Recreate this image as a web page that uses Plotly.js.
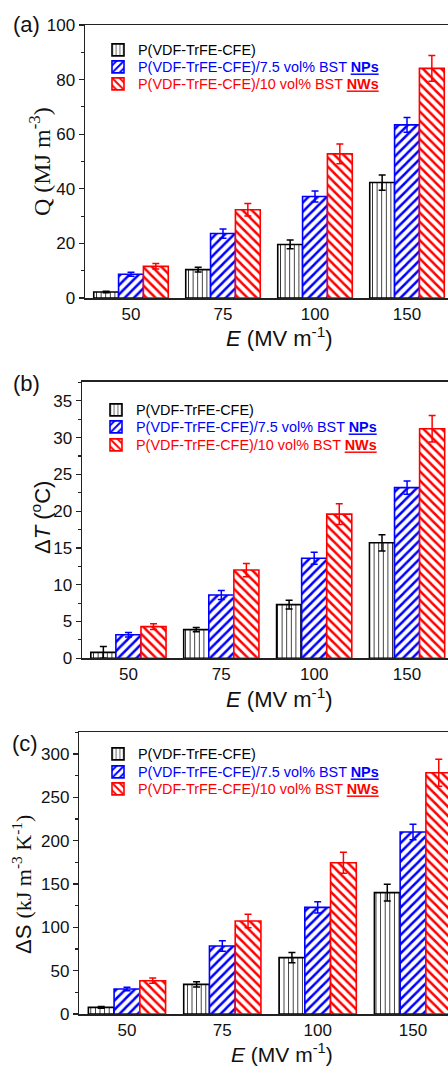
<!DOCTYPE html>
<html>
<head>
<meta charset="utf-8">
<script src="https://cdn.plot.ly/plotly-3.0.1.min.js"></script>
<style>
html,body{margin:0;padding:0;overflow:hidden;background:#fff;width:448px;height:1067px;}
#chart{width:470px;height:1067px;}
</style>
</head>
<body>
<div id="chart"></div>
<script>
// ---------- data ----------
const fields = ['50', '75', '100', '150'];            // E (MV m^-1)
const seriesNames = [
  '<span style="color:#000000">P(VDF-TrFE-CFE)</span>',
  '<span style="color:#0000ff">P(VDF-TrFE-CFE)/7.5 vol% BST <b><span style="text-decoration:underline">NPs</span></b></span>',
  '<span style="color:#ff0000">P(VDF-TrFE-CFE)/10 vol% BST <b><span style="text-decoration:underline">NWs</span></b></span>'
];
// (a) Q (MJ m^-3)
const Q_pure = [2.2, 10.4, 19.6, 42.3];
const Q_pure_err = [0.3, 0.9, 1.6, 2.8];
const Q_NPs = [8.7, 23.6, 37.2, 63.4];
const Q_NPs_err = [0.7, 1.7, 2.0, 2.7];
const Q_NWs = [11.6, 32.3, 52.8, 84.1];
const Q_NWs_err = [1.0, 2.3, 3.6, 4.7];
// (b) ΔT (°C)
const dT_pure = [0.8, 3.9, 7.3, 15.7];
const dT_pure_err = [0.8, 0.3, 0.6, 1.1];
const dT_NPs = [3.2, 8.6, 13.6, 23.2];
const dT_NPs_err = [0.3, 0.6, 0.8, 0.9];
const dT_NWs = [4.3, 12.0, 19.6, 31.2];
const dT_NWs_err = [0.4, 0.9, 1.4, 1.8];
// (c) ΔS (kJ m^-3 K^-1)
const dS_pure = [7.7, 34.2, 65.0, 140.0];
const dS_pure_err = [1.0, 3.0, 6.0, 9.6];
const dS_NPs = [28.8, 78.4, 123.0, 210.0];
const dS_NPs_err = [2.0, 6.0, 6.6, 9.0];
const dS_NWs = [38.4, 107.3, 174.5, 278.3];
const dS_NWs_err = [3.0, 7.7, 12.0, 15.5];

// ---------- styling helpers ----------
const W = 470, H = 1067;
const px = x => x / W;
const py = y => 1 - y / H;
const colors = ['#000000', '#0000ff', '#ff0000'];
const patterns = [
  {shape: '|', fgcolor: '#000000', bgcolor: '#ffffff', size: 4.6, solidity: 0.16, fillmode: 'replace'},
  {shape: '/', fgcolor: '#0000ff', bgcolor: '#ffffff', size: 6.5, solidity: 0.38, fillmode: 'replace'},
  {shape: '\\', fgcolor: '#ff0000', bgcolor: '#ffffff', size: 6.5, solidity: 0.38, fillmode: 'replace'}
];
function barTrace(i, y, err, xa, ya, leg) {
  return {
    type: 'bar', x: fields, y: y, name: seriesNames[i],
    xaxis: xa, yaxis: ya, legend: leg,
    marker: {color: '#ffffff', line: {color: colors[i], width: 1.6}, pattern: patterns[i]},
    error_y: {type: 'data', array: err, visible: true, color: colors[i], thickness: 1.5, width: 3.5}
  };
}
const data = [
  barTrace(0, Q_pure, Q_pure_err, 'x', 'y', 'legend'),
  barTrace(1, Q_NPs, Q_NPs_err, 'x', 'y', 'legend2'),
  barTrace(2, Q_NWs, Q_NWs_err, 'x', 'y', 'legend3'),
  barTrace(0, dT_pure, dT_pure_err, 'x2', 'y2', 'legend4'),
  barTrace(1, dT_NPs, dT_NPs_err, 'x2', 'y2', 'legend5'),
  barTrace(2, dT_NWs, dT_NWs_err, 'x2', 'y2', 'legend6'),
  barTrace(0, dS_pure, dS_pure_err, 'x3', 'y3', 'legend7'),
  barTrace(1, dS_NPs, dS_NPs_err, 'x3', 'y3', 'legend8'),
  barTrace(2, dS_NWs, dS_NWs_err, 'x3', 'y3', 'legend9')
];

const sans = 'Liberation Sans, Arial, sans-serif';
const serif = 'Liberation Serif, Times New Roman, serif';
const axLine = '#222222';
function xAxis(l, r, anchor) {
  return {domain: [px(l), px(r)], anchor: anchor, type: 'category', range: [-0.5, 3.5],
    showline: true, linecolor: axLine, linewidth: 1.5, mirror: true, ticks: '',
    tickfont: {family: sans, size: 17, color: '#111'}, showgrid: false, zeroline: false, fixedrange: true};
}
function yAxis(b, t, anchor, rng, dtick) {
  return {domain: [py(b), py(t)], anchor: anchor, range: rng, dtick: dtick,
    showline: true, linecolor: axLine, linewidth: 1.5, mirror: true,
    ticks: 'outside', ticklen: 5, tickwidth: 1.3, tickcolor: axLine,
    minor: {dtick: dtick / 2, ticks: 'outside', ticklen: 3, tickwidth: 1.1, tickcolor: axLine},
    tickfont: {family: sans, size: 17, color: '#111'}, showgrid: false, zeroline: false, fixedrange: true};
}
// one legend per row; argument = row centre (px)
function legendAt(x, yc) {
  return {x: px(x), y: py(yc - 14), xanchor: 'left', yanchor: 'top', bgcolor: 'rgba(0,0,0,0)',
    font: {family: sans, size: 14.4, color: '#000'}, tracegroupgap: 0, itemwidth: 30};
}
function ann(text, x, y, size, family, angle) {
  return {text: text, x: px(x), y: py(y), xref: 'paper', yref: 'paper', showarrow: false,
    xanchor: 'center', yanchor: 'middle', textangle: angle || 0,
    font: {family: family, size: size, color: '#111'}};
}
const xTitle = '<i>E</i> (MV m<sup>-1</sup>)';
const layout = {
  width: W, height: H, margin: {l: 0, r: 0, t: 0, b: 0},
  paper_bgcolor: '#ffffff', plot_bgcolor: '#ffffff',
  barmode: 'group', bargap: 0.19, bargroupgap: 0,
  showlegend: true,
  xaxis: xAxis(85, 453, 'y'),
  yaxis: yAxis(298, 25, 'x', [0, 100], 20),
  xaxis2: xAxis(82, 453.5, 'y2'),
  yaxis2: yAxis(658.3, 381.7, 'x2', [0, 37.6], 5),
  xaxis3: xAxis(79.3, 460.7, 'y3'),
  yaxis3: yAxis(1014, 732.3, 'x3', [0, 325], 50),
  legend: legendAt(98, 48),
  legend2: legendAt(98, 65),
  legend3: legendAt(98, 82),
  legend4: legendAt(96, 408),
  legend5: legendAt(96, 425),
  legend6: legendAt(96, 443),
  legend7: legendAt(98, 752),
  legend8: legendAt(98, 770),
  legend9: legendAt(98, 787),
  annotations: [
    ann('(a)', 26, 25, 22, sans),
    ann('(b)', 26, 383, 22, sans),
    ann('(c)', 25, 743, 22, sans),
    ann(xTitle, 279, 337, 22, sans),
    ann(xTitle, 279, 698, 22, sans),
    ann(xTitle, 282, 1053, 21, sans),
    ann('Q (MJ m<sup>-3</sup>)', 40, 162, 24, serif, -90),
    ann('Δ<i>T</i> (<sup>o</sup>C)', 41, 518, 22, sans, -90),
    ann('ΔS <span style="font-family:Liberation Serif">(kJ m<sup>-3</sup> K<sup>-1</sup>)</span>', 22, 885, 22, sans, -90)
  ]
};
Plotly.newPlot('chart', data, layout, {displayModeBar: false, staticPlot: true});
</script>
</body>
</html>
